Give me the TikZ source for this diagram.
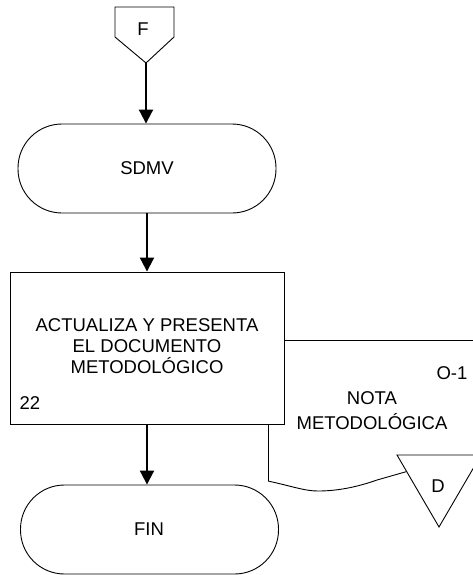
\documentclass[tikz,border=0pt]{standalone}
\usepackage{fontspec}
\setmainfont{Liberation Sans}
\usetikzlibrary{arrows.meta}
\begin{document}
\begin{tikzpicture}[x=1pt,y=-1pt,
  line width=0.9pt,
  lbl/.style={font=\fontsize{18.5}{21}\selectfont, inner sep=0pt, align=center},
  flowarrow/.style={line width=2pt, -{Triangle[width=14pt,length=14pt]}},
  terminal/.style={draw, fill=white, rounded corners=44pt, minimum width=258pt, minimum height=89pt, inner sep=0pt},
  procbox/.style={draw, fill=white, minimum width=274pt, minimum height=152pt, inner sep=0pt}]
\useasboundingbox (0,0) rectangle (473,575);
\clip (0,0) rectangle (473,575);

% output document: left edge and wavy bottom, top edge running off to the right
\draw (268,481) -- (268,340) -- (490,340);
\draw (268,481) .. controls (295,487) and (305,491) .. (318,491)
      .. controls (340,491) and (360,486) .. (377,480) -- (440,462);

% off-page connector F
\draw[fill=white] (115,7) -- (174,7) -- (174,37) -- (146,63) -- (115,37) -- cycle;
\node[lbl] (conF) at (143,29) {F};
\coordinate (conFtip) at (146,63);

% SDMV terminal
\node[terminal] (sdmv) at (147,168.5) {};
\node[lbl] (sdmvtxt) at (147,168) {SDMV};

% process box 22
\node[procbox] (act) at (147,348) {};
\node[lbl] (acttxt) at (147,346) {ACTUALIZA Y PRESENTA\\EL DOCUMENTO\\METODOLÓGICO};
\node[lbl] (actnum) at (30,403) {22};

% document labels
\node[lbl] (docid) at (452,373) {O-1};
\node[lbl, font=\fontsize{18.5}{25}\selectfont] (doctxt) at (372,410.5) {NOTA\\METODOLÓGICA};

% file symbol D
\draw[fill=white] (397,455) -- (481,455) -- (439,527) -- cycle;
\node[lbl] (fileD) at (438,486) {D};

% FIN terminal
\node[terminal] (fin) at (149.5,529.5) {};
\node[lbl] (fintxt) at (149,529) {FIN};

% flow
\draw[flowarrow] (conFtip) -- (sdmv.north -| conFtip);
\draw[flowarrow] (sdmv.south) -- (act.north);
\draw[flowarrow] (act.south) -- (act.south |- fin.north);
\end{tikzpicture}
\end{document}
